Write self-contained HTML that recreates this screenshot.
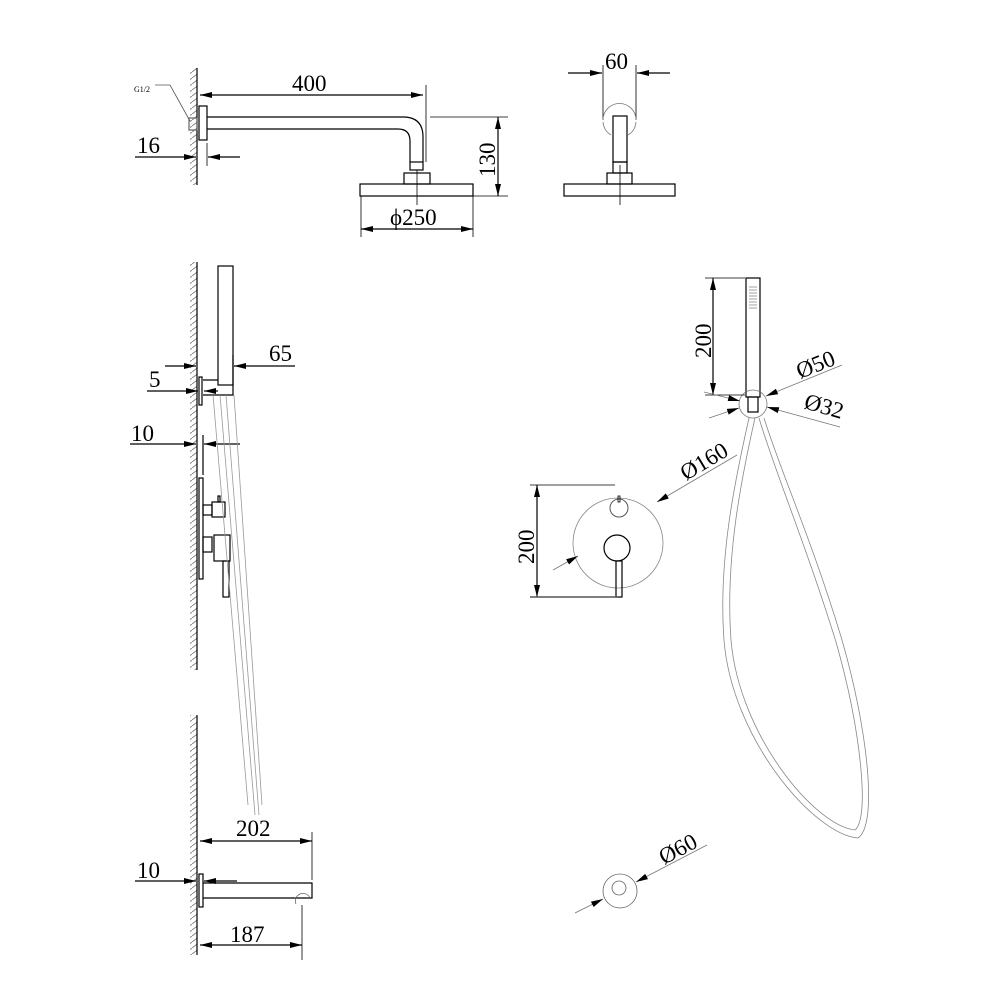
<!DOCTYPE html>
<html><head><meta charset="utf-8"><style>body{margin:0;background:#fff}svg{display:block}</style></head>
<body>
<svg width="1000" height="1000" viewBox="0 0 1000 1000" xmlns="http://www.w3.org/2000/svg" font-family="Liberation Serif, serif">
<defs>
<pattern id="h" width="8" height="6" patternUnits="userSpaceOnUse"><line x1="0" y1="6" x2="8" y2="0" stroke="#888" stroke-width="1"/></pattern>
<marker id="a" viewBox="0 0 12 6" refX="12" refY="3" markerWidth="12" markerHeight="6" markerUnits="userSpaceOnUse" orient="auto"><path d="M0,0 L12,3 L0,6z" fill="#000"/></marker>
<marker id="b" viewBox="0 0 12 6" refX="0" refY="3" markerWidth="12" markerHeight="6" markerUnits="userSpaceOnUse" orient="auto"><path d="M12,0 L0,3 L12,6z" fill="#000"/></marker>
</defs>
<g fill="none" stroke="#000" stroke-width="1.2">
<rect x="190" y="68" width="7" height="117" fill="url(#h)" stroke="none"/>
<line x1="197" y1="68" x2="197" y2="185"/>
<rect x="190" y="262" width="7" height="408" fill="url(#h)" stroke="none"/>
<line x1="197" y1="262" x2="197" y2="670"/>
<rect x="190" y="715" width="7" height="240" fill="url(#h)" stroke="none"/>
<line x1="197" y1="715" x2="197" y2="955"/>

<rect x="199" y="106" width="8" height="34"/>
<rect x="189" y="118" width="8" height="12" stroke="#666"/>
<path d="M207,117 H403 Q423,117 423,137 V162"/>
<path d="M207,129 H398 Q410,129 410,141 V162"/>
<rect x="410" y="162" width="13" height="8"/>
<rect x="404" y="173" width="26" height="11"/>
<rect x="360" y="184" width="113" height="12"/>
<line x1="417" y1="170" x2="417" y2="205" stroke-width="0.8"/>
<path d="M155,85 H170 L190,121" stroke="#555" stroke-width="0.8"/>
<line x1="200" y1="95" x2="423" y2="95" marker-start="url(#b)" marker-end="url(#a)"/>
<line x1="426" y1="85" x2="426" y2="162" stroke-width="0.8"/>
<line x1="135" y1="157" x2="196" y2="157" marker-end="url(#a)"/>
<line x1="240" y1="157" x2="208" y2="157" marker-end="url(#a)"/>
<line x1="207" y1="143" x2="207" y2="166" stroke-width="0.8"/>
<line x1="498" y1="117" x2="498" y2="196" marker-start="url(#b)" marker-end="url(#a)"/>
<line x1="430" y1="117" x2="508" y2="117" stroke-width="0.8"/>
<line x1="473" y1="196" x2="508" y2="196" stroke-width="0.8"/>
<line x1="361" y1="229" x2="473" y2="229" marker-start="url(#b)" marker-end="url(#a)"/>
<line x1="361" y1="196" x2="361" y2="237" stroke-width="0.8"/>
<line x1="473" y1="196" x2="473" y2="237" stroke-width="0.8"/>

<line x1="568" y1="73" x2="602" y2="73" marker-end="url(#a)"/>
<line x1="670" y1="73" x2="637" y2="73" marker-end="url(#a)"/>
<line x1="603" y1="65" x2="603" y2="120" stroke-width="0.8"/>
<line x1="636" y1="65" x2="636" y2="120" stroke-width="0.8"/>
<path d="M603,120 A16.5,16.5 0 1 1 636,120" stroke="#777" stroke-width="0.8"/>
<path d="M611,135 A16.5,16.5 0 0 1 603,122 M636,122 A16.5,16.5 0 0 1 628,135" stroke="#777" stroke-width="0.8"/>
<rect x="613" y="116" width="14" height="46"/>
<rect x="613" y="162" width="14" height="11"/>
<rect x="607" y="173" width="25" height="11"/>
<rect x="564" y="184" width="111" height="12"/>
<line x1="620" y1="165" x2="620" y2="205" stroke-width="0.8"/>

<rect x="218" y="266" width="15" height="119"/>
<path d="M203,380 H218 M233,355 V395 H203"/>
<rect x="199" y="377" width="3" height="28"/>
<line x1="165" y1="366" x2="196" y2="366" marker-end="url(#a)"/>
<line x1="295" y1="366" x2="234" y2="366" marker-end="url(#a)"/>
<line x1="147" y1="391" x2="198" y2="391" marker-end="url(#a)"/>
<line x1="218" y1="391" x2="204" y2="391" marker-end="url(#a)"/>
<line x1="130" y1="444" x2="196" y2="444" marker-end="url(#a)"/>
<line x1="240" y1="444" x2="204" y2="444" marker-end="url(#a)"/>
<line x1="203" y1="435" x2="203" y2="475"/>
<rect x="199" y="478" width="4" height="101"/>
<rect x="203" y="505" width="9" height="10"/>
<rect x="212" y="502" width="13" height="15"/>
<rect x="218" y="496" width="2" height="6"/>
<rect x="203" y="537" width="9" height="15"/>
<rect x="214" y="535" width="16" height="26"/>
<rect x="223" y="561" width="6" height="36"/>
<g stroke="#999" stroke-width="0.8">
<path d="M213,395 L248,805"/><path d="M220,395 L255,815"/><path d="M226,395 L259,815"/><path d="M234,395 L262,805"/>
</g>

<line x1="200" y1="841" x2="312" y2="841" marker-start="url(#b)" marker-end="url(#a)"/>
<line x1="312" y1="832" x2="312" y2="880" stroke-width="0.8"/>
<line x1="135" y1="881" x2="196" y2="881" marker-end="url(#a)"/>
<line x1="237" y1="881" x2="204" y2="881" marker-end="url(#a)"/>
<rect x="199" y="874" width="4" height="33"/>
<path d="M203,883 H312 V898 H203"/>
<path d="M296,904 A7,7 0 0 1 310,898" stroke="#666" stroke-width="0.8"/>
<line x1="302" y1="905" x2="302" y2="960" stroke-width="0.8"/>
<line x1="200" y1="945" x2="302" y2="945" marker-start="url(#b)" marker-end="url(#a)"/>

<rect x="746" y="278" width="14" height="119"/>
<rect x="748" y="397" width="10" height="15"/>
<g stroke="#444" stroke-width="0.6"><path d="M749,287 H757 M749,290 H757 M749,293 H757 M749,296 H757 M749,299 H757 M749,302 H757 M749,305 H757 M749,308 H757"/></g>
<circle cx="753" cy="404" r="14" stroke="#777" stroke-width="0.8"/>
<line x1="713" y1="278" x2="713" y2="395" marker-start="url(#b)" marker-end="url(#a)"/>
<line x1="705" y1="278" x2="745" y2="278" stroke-width="0.8"/>
<line x1="705" y1="395" x2="745" y2="395" stroke-width="0.8"/>
<line x1="704" y1="392" x2="740" y2="401" stroke="#777" stroke-width="0.8" marker-end="url(#a)"/>
<line x1="842" y1="365" x2="766" y2="396" stroke="#777" stroke-width="0.8" marker-end="url(#a)"/>
<line x1="709" y1="418" x2="739" y2="408" stroke="#777" stroke-width="0.8" marker-end="url(#a)"/>
<line x1="840" y1="427" x2="767" y2="407" stroke="#777" stroke-width="0.8" marker-end="url(#a)"/>
<g stroke="#888" stroke-width="0.8">
<path d="M749,418 C735,480 718,560 724,640 C732,740 815,835 858,838 C878,825 868,730 842,640 C812,540 780,470 764,418"/>
<path d="M755,418 C741,480 725,560 731,640 C739,735 815,826 855,830 C870,818 861,730 836,642 C806,545 775,472 759,418"/>
</g>

<circle cx="618" cy="543" r="45" stroke="#888" stroke-width="0.8"/>
<circle cx="619" cy="508" r="9" stroke="#555" stroke-width="1"/>
<rect x="618" y="496" width="2" height="6" stroke-width="0.8"/>
<circle cx="617" cy="548" r="13"/>
<rect x="616" y="561" width="6" height="36"/>
<line x1="537" y1="485" x2="537" y2="597" marker-start="url(#b)" marker-end="url(#a)"/>
<line x1="530" y1="485" x2="615" y2="485" stroke-width="0.8"/>
<line x1="530" y1="597" x2="618" y2="597" stroke="#555" stroke-width="1.5"/>
<line x1="553" y1="570" x2="578" y2="556" stroke="#777" stroke-width="0.8" marker-end="url(#a)"/>
<line x1="737" y1="455" x2="657" y2="502" stroke="#777" stroke-width="0.8" marker-end="url(#a)"/>

<circle cx="620" cy="891" r="17" stroke="#666" stroke-width="0.8"/>
<circle cx="619" cy="888" r="7" stroke="#666" stroke-width="0.8"/>
<line x1="575" y1="913" x2="603" y2="899" stroke="#777" stroke-width="0.8" marker-end="url(#a)"/>
<line x1="707" y1="845" x2="636" y2="882" stroke="#777" stroke-width="0.8" marker-end="url(#a)"/>
</g>

<g fill="#000" font-size="23">
<text x="292" y="91">400</text>
<text x="137" y="153">16</text>
<text x="134" y="92" font-size="8">G1/2</text>
<text x="0" y="0" transform="translate(495,177) rotate(-90)">130</text>
<text x="390" y="225">ϕ250</text>
<text x="605" y="69">60</text>
<text x="269" y="361">65</text>
<text x="149" y="387">5</text>
<text x="131" y="441">10</text>
<text x="236" y="836">202</text>
<text x="137" y="878">10</text>
<text x="230" y="942">187</text>
<text x="0" y="0" transform="translate(711,358) rotate(-90)">200</text>
<text x="0" y="0" transform="translate(534,564) rotate(-90)">200</text>
<text x="0" y="0" transform="translate(800,379) rotate(-22)">Ø50</text>
<text x="0" y="0" transform="translate(803,408) rotate(16)">Ø32</text>
<text x="0" y="0" transform="translate(686,481) rotate(-31)">Ø160</text>
<text x="0" y="0" transform="translate(664,865) rotate(-28)">Ø60</text>
</g>
</svg>
</body></html>
